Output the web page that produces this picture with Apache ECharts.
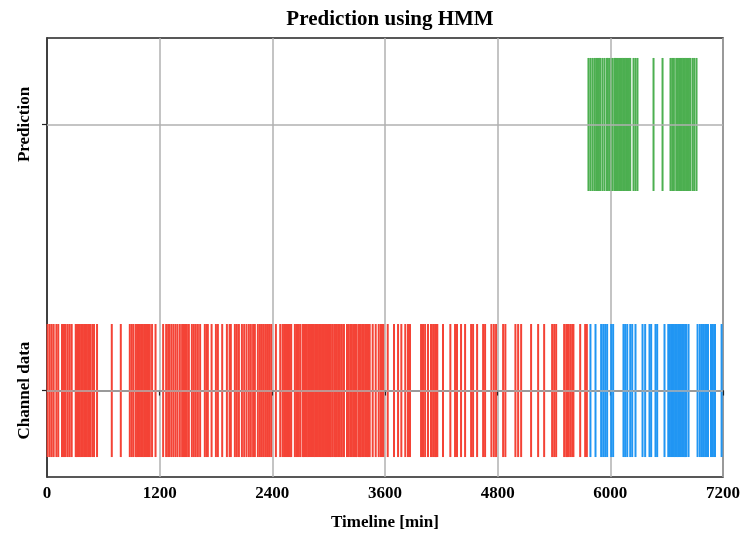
<!DOCTYPE html>
<html lang="en">
  <head>
    <meta charset="UTF-8" />
    <title>Prediction using HMM</title>
    <style>
      html, body { margin: 0; padding: 0; background: #fff; }
      #main { width: 743px; height: 536px; }
    </style>
  </head>
  <body>
    <script src="https://cdn.jsdelivr.net/npm/echarts@6/dist/echarts.min.js"></script>
    <div id="main"></div>
    <script>
      const rowLabels = ['Channel data', 'Prediction']
      const xMax = 7200
      const xStep = 1200

      // channel data, first state (red)
      const redTimes = [
        7, 29, 50, 71, 100, 120, 160, 181, 199, 221, 242, 263, 306, 320, 335, 350, 365, 380, 395, 410,
        425, 440, 455, 463, 484, 501, 533, 690, 786, 882, 903, 921, 946, 960, 975, 990, 1005, 1020,
        1035, 1050, 1065, 1080, 1095, 1119, 1156, 1237, 1269, 1290, 1305, 1326, 1347, 1369, 1390,
        1415, 1439, 1455, 1470, 1490, 1511, 1543, 1564, 1585, 1607, 1631, 1681, 1700, 1713, 1753,
        1799, 1820, 1866, 1916, 1945, 1958, 2001, 2022, 2044, 2076, 2100, 2125, 2150, 2171, 2195,
        2214, 2246, 2268, 2289, 2310, 2332, 2353, 2370, 2388, 2438, 2484, 2509, 2525, 2540, 2556,
        2572, 2587, 2601, 2640, 2656, 2669, 2683, 2700, 2726, 2737, 2752, 2767, 2782, 2797, 2812,
        2827, 2842, 2857, 2872, 2886, 2902, 2918, 2934, 2950, 2966, 2982, 2998, 3013, 3024, 3045,
        3067, 3081, 3100, 3120, 3141, 3163, 3195, 3215, 3234, 3248, 3270, 3291, 3298, 3320, 3333,
        3341, 3357, 3373, 3389, 3405, 3419, 3437, 3469, 3501, 3533, 3554, 3568, 3582, 3629, 3696,
        3739, 3774, 3816, 3845, 3866, 3984, 4005, 4027, 4058, 4090, 4112, 4133, 4144, 4157, 4218,
        4296, 4346, 4367, 4410, 4453, 4517, 4538, 4581, 4645, 4666, 4733, 4759, 4783, 4858, 4882,
        4989, 5018, 5050, 5156, 5231, 5295, 5380, 5402, 5423, 5508, 5530, 5540, 5551, 5572, 5593,
        5607, 5679, 5732, 5750
      ]

      // channel data, second state (blue)
      const blueTimes = [
        5788, 5842, 5902, 5924, 5945, 5966, 6009, 6030, 6140, 6158, 6180, 6212, 6233, 6268, 6343,
        6371, 6417, 6435, 6481, 6499, 6577, 6617, 6632, 6647, 6662, 6677, 6692, 6707, 6722, 6737,
        6752, 6767, 6782, 6797, 6809, 6833, 6929, 6954, 6976, 6997, 7019, 7040, 7072, 7093, 7115, 7185
      ]

      // predicted events (green)
      const greenTimes = [
        5767, 5788, 5810, 5831, 5849, 5863, 5878, 5892, 5916, 5938, 5963, 5974, 5991, 6022, 6043,
        6053, 6063, 6078, 6093, 6108, 6123, 6138, 6153, 6168, 6183, 6198, 6212, 6247, 6268, 6289,
        6460, 6556, 6641, 6659, 6677, 6702, 6717, 6732, 6747, 6762, 6777, 6792, 6807, 6822, 6837,
        6851, 6876, 6894, 6918
      ]

      const font = 'Liberation Serif'
      const chart = echarts.init(document.getElementById('main'))

      function renderEvent(params, api) {
        const x = api.value(0)
        const row = api.value(1)
        const p0 = api.coord([x, row - 0.25])
        const p1 = api.coord([x, row + 0.25])
        return {
          type: 'line',
          shape: { x1: p0[0], y1: p0[1], x2: p1[0], y2: p1[1] },
          style: { stroke: api.visual('color'), lineWidth: 2 }
        }
      }

      const eventSeries = (name, times, row, color) => ({
        name,
        type: 'custom',
        renderItem: renderEvent,
        itemStyle: { color },
        encode: { x: 0, y: 1 },
        data: times.map(t => [t, row]),
        silent: true,
        animation: false
      })

      const gridSeries = eventSeries('red', redTimes, 0, '#f44336')
      gridSeries.markLine = {
        silent: true,
        symbol: 'none',
        label: { show: false },
        lineStyle: { color: '#b0b0b0', width: 1.5, type: 'solid' },
        data: rowLabels.map((_, i) => ({ yAxis: i })),
        animation: false
      }

      chart.setOption({
        animation: false,
        title: {
          text: 'Prediction using HMM',
          left: 385,
          textAlign: 'center',
          top: 4,
          textStyle: { fontFamily: font, fontSize: 21, fontWeight: 'bold', color: '#000' }
        },
        grid: {
          left: 47,
          right: 20,
          top: 38,
          bottom: 58,
          show: true,
          borderColor: '#222',
          borderWidth: 1.5,
          containLabel: false
        },
        xAxis: {
          type: 'value',
          min: 0,
          max: xMax,
          interval: xStep,
          name: 'Timeline [min]',
          nameLocation: 'middle',
          nameGap: 37,
          nameTextStyle: { fontFamily: font, fontSize: 17, fontWeight: 'bold', color: '#000' },
          axisLine: { lineStyle: { color: '#222', width: 1.5 } },
          axisTick: { length: 5, lineStyle: { color: '#222', width: 1.2 } },
          axisLabel: {
            fontFamily: font, fontSize: 17, fontWeight: 'bold', color: '#000', margin: 8,
            formatter: v => String(v)
          },
          splitLine: { show: true, lineStyle: { color: '#b0b0b0', width: 1.5 } }
        },
        yAxis: {
          type: 'value',
          min: -0.325,
          max: 1.325,
          axisLine: { show: true, lineStyle: { color: '#222', width: 1.5 } },
          axisTick: { show: true, customValues: [0, 1], length: 5, lineStyle: { color: '#222', width: 1.2 } },
          axisLabel: {
            customValues: [0, 1],
            rotate: 90,
            margin: 14,
            fontFamily: font,
            fontSize: 17,
            fontWeight: 'bold',
            color: '#000',
            formatter: v => rowLabels[Math.round(v)] || ''
          },
          splitLine: { show: false }
        },
        series: [
          gridSeries,
          eventSeries('blue', blueTimes, 0, '#2196f3'),
          eventSeries('green', greenTimes, 1, '#4caf50')
        ]
      })
    </script>
  </body>
</html>
